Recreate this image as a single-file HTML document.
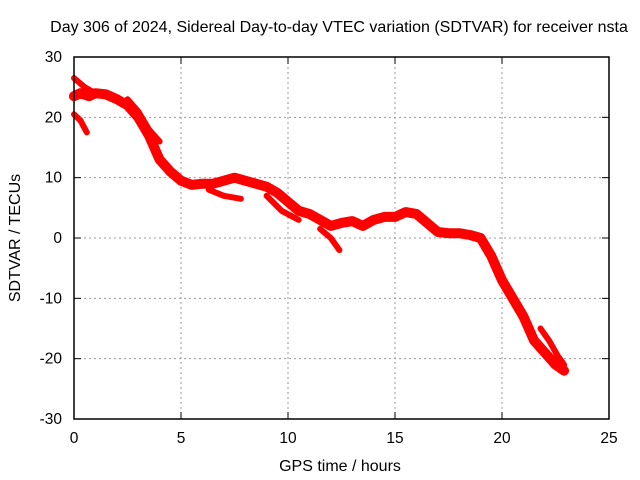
<!DOCTYPE html>
<html><head><meta charset="utf-8"><style>
body{margin:0;background:#fff}
svg{display:block;font-family:"Liberation Sans",sans-serif}
</style></head><body>
<svg id="chart" width="640" height="480">
<text x="339" y="32" font-size="16" text-anchor="middle">Day 306 of 2024, Sidereal Day-to-day VTEC variation (SDTVAR) for receiver nsta</text>
<text x="340" y="471" font-size="16" text-anchor="middle">GPS time / hours</text>
<text x="20" y="238" font-size="16" text-anchor="middle" transform="rotate(-90 20 238)">SDTVAR / TECUs</text>
<g id="grid"></g><g id="ticks"></g><g id="series"></g>
<rect x="74" y="57" width="535" height="362" fill="none" stroke="#000" stroke-width="1.5"/>
</svg>
<script>
const xTicks=[0,5,10,15,20,25];
const yTicks=[-30,-20,-10,0,10,20,30];
const mainHours=[0,0.3,0.7,1,1.5,2,2.5,3,3.5,4,4.5,5,5.5,6,6.5,7,7.5,8,8.5,9,9.5,10,10.5,11,11.5,12,12.5,13,13.5,14,14.5,15,15.5,16,16.5,17,17.5,18,18.5,19,19.5,20,20.5,21,21.5,22,22.5,22.9];
const mainValues=[23.5,24,23.5,24,23.8,23,22,20,17,13,11,9.5,8.8,9,9,9.5,10,9.5,9,8.5,7.5,6,4.5,4,3,2,2.5,2.8,2,3,3.5,3.5,4.3,4,2.5,1,0.8,0.8,0.5,0,-3,-7,-10,-13,-17,-19,-21,-22];
const branchA=[[0,0.5,1],[26.5,25,24]];
const branchB=[[0,0.3,0.6],[20.5,19.5,17.5]];
const branchC=[[11.5,12,12.4],[1.5,0,-2]];
const branchD=[[6.3,7,7.8],[8,7,6.5]];
const branchE=[[21.8,22.2,22.6,22.9],[-15,-17,-19.5,-21]];
const branchF=[[2.5,3,3.5,4],[23,21,18,16]];
const branchG=[[9,9.7,10.5],[7,4.5,3]];
const X=h=>74+h*(535/25);
const Y=v=>238-v*(362/60);
const ns="http://www.w3.org/2000/svg";
const grid=document.getElementById('grid'),ticks=document.getElementById('ticks'),ser=document.getElementById('series');
function mk(tag,attrs,parent){const e=document.createElementNS(ns,tag);for(const k in attrs)e.setAttribute(k,attrs[k]);parent.appendChild(e);return e;}
xTicks.forEach(t=>{
 if(t>0&&t<25){const g=mk('line',{x1:X(t),x2:X(t),y1:57,y2:419,stroke:'#999','stroke-dasharray':'2,3'},grid);
 
 }
 mk('line',{x1:X(t),x2:X(t),y1:419,y2:412,stroke:'#000'},ticks);
 mk('line',{x1:X(t),x2:X(t),y1:57,y2:64,stroke:'#000'},ticks);
 const l=mk('text',{x:X(t),y:443,'font-size':15.5,'text-anchor':'middle'},ticks);l.textContent=t;
 
 
});
yTicks.forEach(t=>{
 if(t>-30&&t<30){const g=mk('line',{x1:74,x2:609,y1:Y(t),y2:Y(t),stroke:'#999','stroke-dasharray':'2,3'},grid);
 
 }
 mk('line',{x1:74,x2:81,y1:Y(t),y2:Y(t),stroke:'#000'},ticks);
 mk('line',{x1:609,x2:602,y1:Y(t),y2:Y(t),stroke:'#000'},ticks);
 const l=mk('text',{x:62,y:Y(t)+5,'font-size':15.5,'text-anchor':'end'},ticks);l.textContent=t;
 
 
});
function path(xs,vs,w,name){
 const d=xs.map((h,i)=>(i?'L':'M')+X(h).toFixed(1)+','+Y(vs[i]).toFixed(1)).join('');
 const p=mk('path',{d:d,fill:'none',stroke:'#f00','stroke-width':w,'stroke-linejoin':'round','stroke-linecap':'round'},ser);
 
 
}
path(mainHours,mainValues,10,'sdtvar-main-track');
[branchA,branchB,branchC,branchD,branchE,branchF,branchG].forEach((b,i)=>path(b[0],b[1],6,'sdtvar-branch'));
</script>
</body></html>
